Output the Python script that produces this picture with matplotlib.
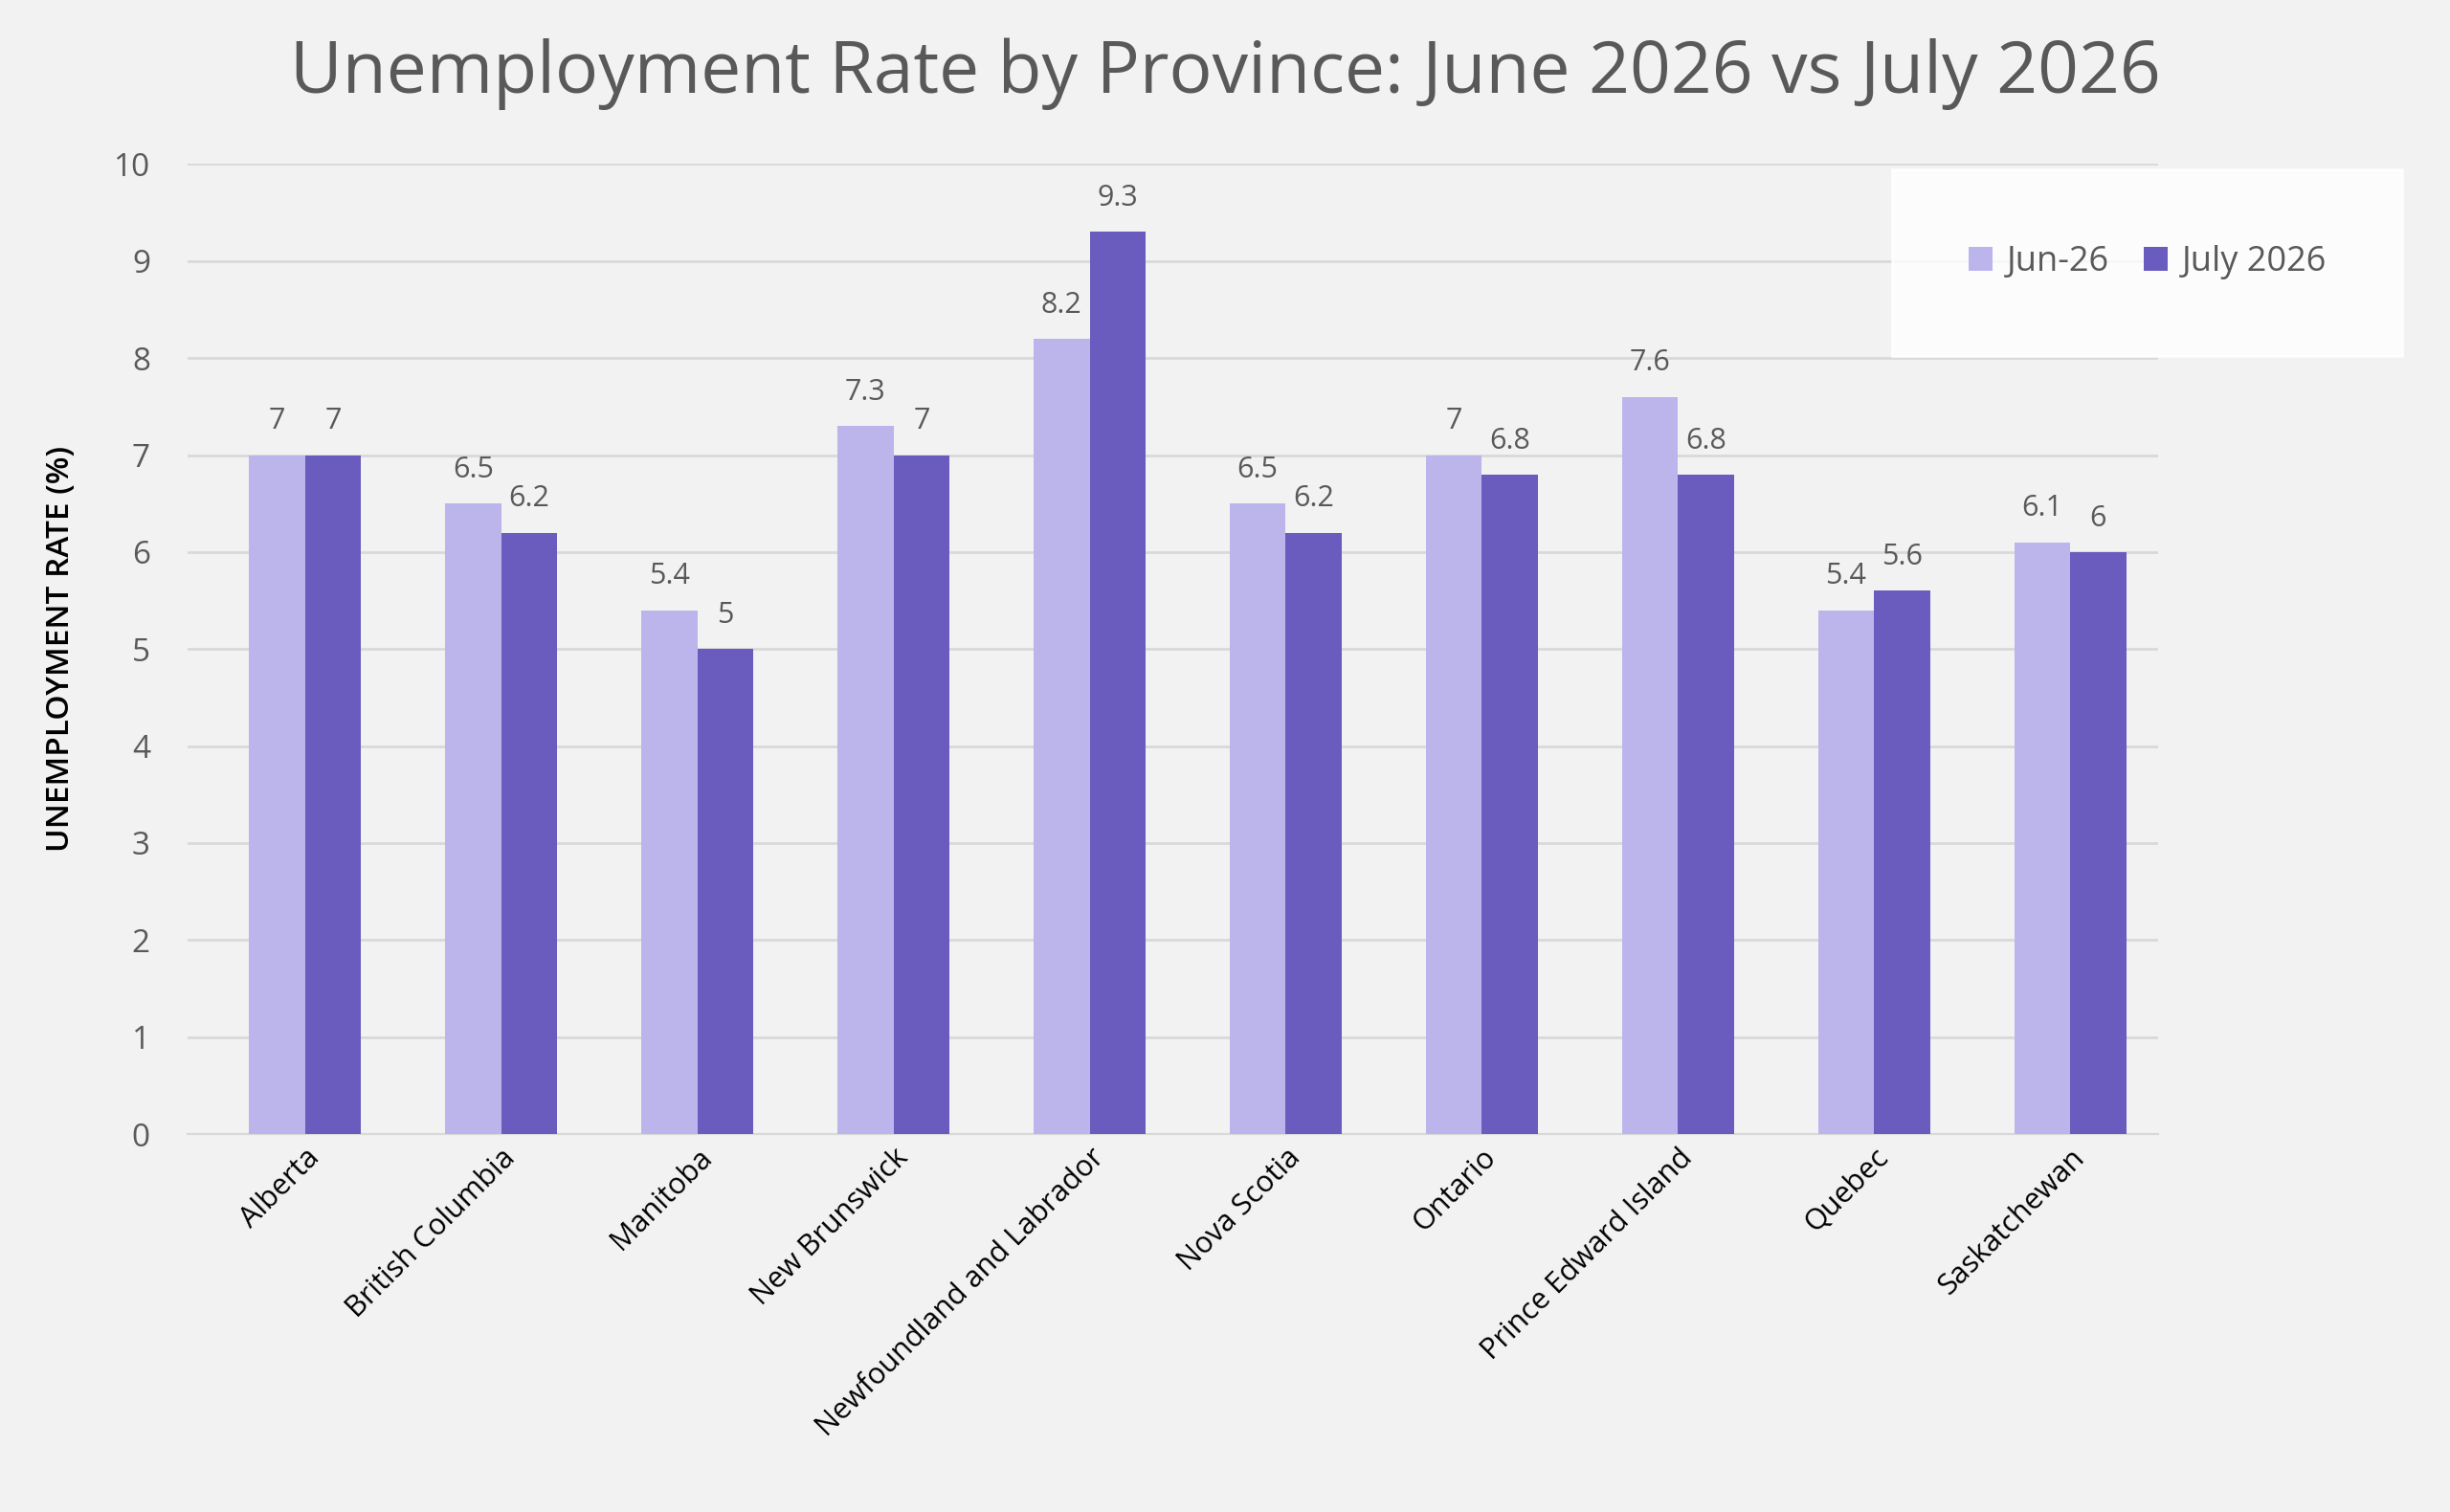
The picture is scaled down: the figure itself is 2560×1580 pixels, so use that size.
import numpy as np
import matplotlib
matplotlib.use('Agg')
import matplotlib.pyplot as plt

provinces = ['Alberta', 'British Columbia', 'Manitoba', 'New Brunswick',
             'Newfoundland and Labrador', 'Nova Scotia', 'Ontario',
             'Prince Edward Island', 'Quebec', 'Saskatchewan']
june = [7, 6.5, 5.4, 7.3, 8.2, 6.5, 7, 7.6, 5.4, 6.1]
july = [7, 6.2, 5, 7, 9.3, 6.2, 6.8, 6.8, 5.6, 6]

plt.rcParams['font.family'] = ['Open Sans', 'DejaVu Sans']
txt = '#595959'
bg = '#F2F2F2'

fig = plt.figure(figsize=(12.8, 7.9), dpi=200, facecolor=bg)
ax = fig.add_axes([0.0765, 0.25, 0.8045, 0.6415], facecolor=bg)

x = np.arange(len(provinces))
w = 0.286
b1 = ax.bar(x - w / 2, june, w, color='#BBB5EC', label='Jun-26', zorder=3)
b2 = ax.bar(x + w / 2, july, w, color='#6A5BBE', label='July 2026', zorder=3)
for bars, vals in ((b1, june), (b2, july)):
    for r, v in zip(bars, vals):
        ax.text(r.get_x() + r.get_width() / 2, v + 0.2, f'{v:g}',
                ha='center', va='bottom', fontsize=11, color=txt)

ax.set_ylim(0, 10)
ax.set_xlim(-0.6, 9.45)
ax.set_yticks(range(11))
ax.grid(axis='y', color='#D9D9D9', linewidth=1, zorder=0)
for s in ('top', 'right', 'left'):
    ax.spines[s].set_visible(False)
ax.spines['bottom'].set_color('#D9D9D9')
ax.tick_params(length=0, labelsize=12, colors=txt)
ax.tick_params(axis='y', pad=14)
ax.set_xticks(x)
ax.set_xticklabels(provinces, rotation=45, ha='right', rotation_mode='anchor',
                   fontsize=11, color='black')
ax.set_ylabel('UNEMPLOYMENT RATE (%)', fontsize=12, fontweight='semibold',
              color='black', labelpad=14)

fig.suptitle('Unemployment Rate by Province: June 2026 vs July 2026',
             fontsize=27, color=txt, y=0.975)

leg = fig.legend(loc='center', bbox_to_anchor=(0.8765, 0.8265), ncol=2,
                 fontsize=13, frameon=True, fancybox=False, handlelength=0.7,
                 handleheight=0.7, handletextpad=0.4, columnspacing=1.0,
                 borderpad=2.2)
leg.get_frame().set_facecolor('white')
leg.get_frame().set_edgecolor('white')
for t in leg.get_texts():
    t.set_color(txt)

fig.savefig('out.png', dpi=200, facecolor=bg)
